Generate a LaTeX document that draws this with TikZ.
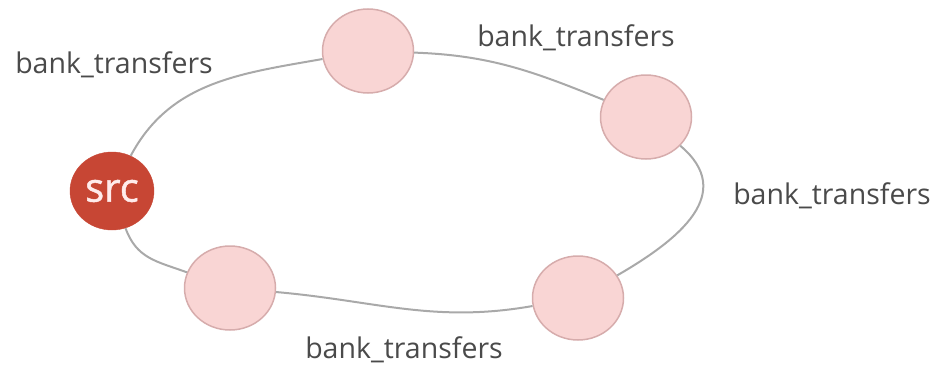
\documentclass[tikz,border=0pt]{standalone}
\usepackage{fontspec}
\setmainfont{Open Sans}
\newfontfamily\srcfont[FakeBold=1.2]{Open Sans}
\usetikzlibrary{shapes.geometric}
\definecolor{srcred}{HTML}{C74634}
\definecolor{hoppink}{HTML}{F9D5D4}
\definecolor{hopedge}{HTML}{D6ACAC}
\definecolor{edgegray}{HTML}{A9A9A9}
\definecolor{labelgray}{HTML}{4A4A4A}

\begin{document}
\begin{tikzpicture}[x=1pt,y=-1pt,
		hop/.style={ellipse, fill=hoppink, draw=hopedge, line width=1.5pt,
			minimum width=91pt, minimum height=84pt, inner sep=0pt},
		source/.style={ellipse, fill=srcred, draw=srcred, text=red!8!white,
			minimum width=84pt, minimum height=78pt, inner sep=0pt,
			font=\srcfont\fontsize{40}{44}\selectfont},
		link/.style={draw=edgegray, line width=2pt},
		tag/.style={text=labelgray, font=\fontsize{28.5}{32}\selectfont}]
				\useasboundingbox (0,0) rectangle (936,372);
				
				\node[source] (src) at (112,191) {src};
				\node[hop] (h1) at (368,51) {};
				\node[hop] (h2) at (646,117) {};
				\node[hop] (h3) at (578,298) {};
				\node[hop] (h4) at (230,288) {};
				
				% the cycle of transfers
				\draw[link] (src) to[out=62,in=190] (h1);
				\draw[link] (h1) to[out=-2,in=158] (h2);
				\draw[link] (h2) to[out=-40,in=30,looseness=1.3] (h3);
				\draw[link] (h3) to[out=190,in=-5] (h4);
				\draw[link] (h4) to[out=160,in=-70,looseness=1.1] (src);
				
				\node[tag] (t1) at (114,65) {bank\_transfers};
				\node[tag] (t2) at (576,38) {bank\_transfers};
				\node[tag] (t3) at (832,196) {bank\_transfers};
				\node[tag] (t4) at (404,350) {bank\_transfers};
			\end{tikzpicture}
\end{document}
